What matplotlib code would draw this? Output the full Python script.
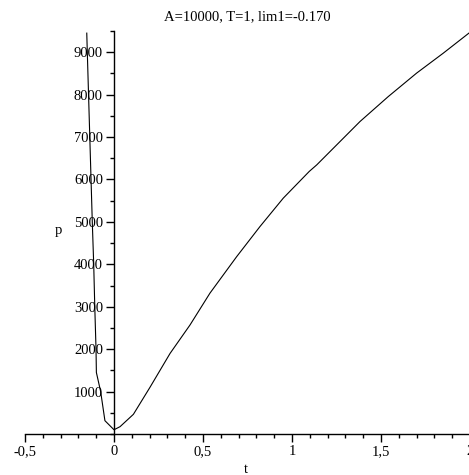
import matplotlib
matplotlib.use("Agg")
import matplotlib.pyplot as plt
from matplotlib.ticker import MultipleLocator

# valores (t, p) - rama izquierda y rama derecha juntas
t_vals = [-0.153, -0.150, -0.129, -0.122, -0.114, -0.108, -0.101, -0.099,
          -0.075, -0.051, 0.0, 0.034, 0.109, 0.202, 0.315, 0.427, 0.539,
          0.689, 0.820, 0.951, 1.097, 1.139, 1.382, 1.541, 1.700, 1.850, 2.0]
p_vals = [9450, 9000, 6000, 5000, 4000, 3000, 2000, 1450,
          1000, 314, 100, 173, 464, 1100, 1900, 2570, 3320,
          4180, 4890, 5560, 6190, 6344, 7366, 7955, 8507, 8978, 9470]

x_ticks = [-0.5, 0, 0.5, 1, 1.5, 2]
x_labels = ["-0,5", "0", "0,5", "1", "1,5", "2"]
y_ticks = [1000, 2000, 3000, 4000, 5000, 6000, 7000, 8000, 9000]

titulo = "A=10000, T=1, lim1=-0.170"

plt.rcParams['font.family'] = ['Liberation Serif', 'DejaVu Serif']

fig = plt.figure(figsize=(4.69, 4.75), dpi=100)
ax = fig.add_axes([25/469, 41/475, 445/469, 403/475])

ax.plot(t_vals, p_vals, color='black', lw=0.8)

ax.set_xlim(-0.5, 2)
ax.set_ylim(0, 9500)

# ejes tipo Maple, cruzando en el origen
ax.spines['left'].set_position(('data', 0))
ax.spines['bottom'].set_position(('data', 0))
ax.spines['right'].set_visible(False)
ax.spines['top'].set_visible(False)
for s in ('left', 'bottom'):
    ax.spines[s].set_linewidth(1.0)

ax.set_xticks(x_ticks)
ax.set_xticklabels(x_labels)
ax.set_yticks(y_ticks)
ax.xaxis.set_minor_locator(MultipleLocator(0.1))
ax.yaxis.set_minor_locator(MultipleLocator(500))

ax.tick_params(axis='both', which='major', direction='out', length=5.5, width=1,
               labelsize=10.5, pad=2.5)
ax.tick_params(axis='both', which='minor', direction='out', length=3, width=1)

ax.set_xlabel('t', fontsize=10.5)
ax.set_ylabel('p', fontsize=10.5, rotation=0)
ax.xaxis.set_label_coords(0.497, -0.072)
ax.yaxis.set_label_coords(0.074, 0.489)

ax.set_title(titulo, fontsize=10.5, pad=8)

fig.savefig('out.png', dpi=100)
